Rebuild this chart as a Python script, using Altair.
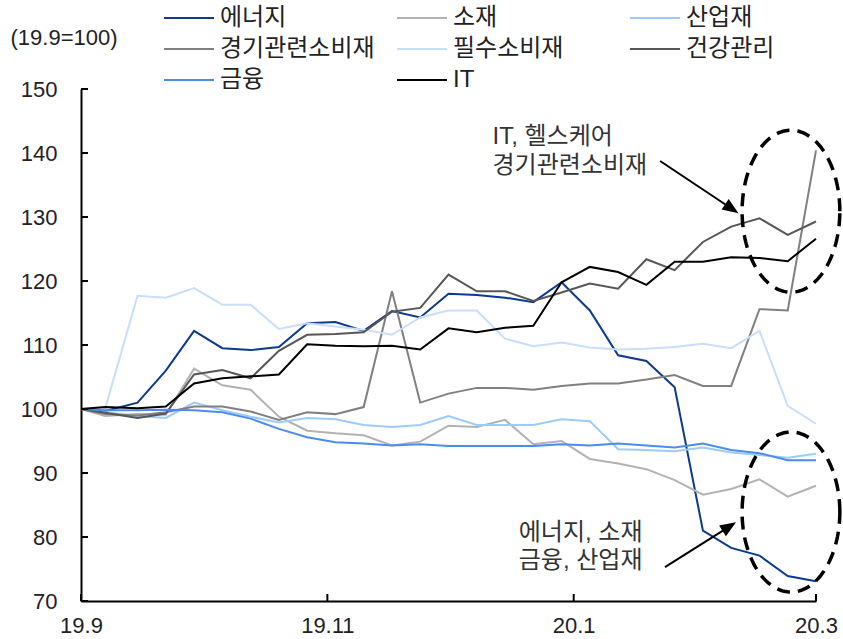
import math

import altair as alt
import numpy as np
import pandas as pd

# ---- data -----------------------------------------------------------------
dates = [
    "2019-09-01", "2019-09-07", "2019-09-15", "2019-09-22", "2019-09-29",
    "2019-10-06", "2019-10-13", "2019-10-20", "2019-10-27", "2019-11-03",
    "2019-11-10", "2019-11-17", "2019-11-24", "2019-12-01", "2019-12-08",
    "2019-12-15", "2019-12-22", "2019-12-29", "2020-01-05", "2020-01-12",
    "2020-01-19", "2020-01-26", "2020-02-02", "2020-02-09", "2020-02-16",
    "2020-02-23", "2020-03-01",
]

energy = [100, 99.7, 101.0, 106.0, 112.2, 109.5, 109.2, 109.7, 113.4, 113.6,
          112.2, 115.3, 114.3, 118.0, 117.8, 117.4, 116.7, 119.8, 115.4, 108.4,
          107.5, 103.4, 81.0, 78.3, 77.1, 73.9, 73.1]
materials = [100, 98.9, 99.2, 99.1, 106.3, 103.7, 103.0, 98.8, 96.6, 96.2,
             95.9, 94.3, 94.9, 97.4, 97.2, 98.3, 94.5, 95.0, 92.2, 91.5,
             90.6, 88.9, 86.6, 87.5, 89.0, 86.3, 88.0]
industrials = [100, 99.5, 98.9, 98.6, 101.0, 99.8, 98.8, 97.9, 98.6, 98.4,
               97.5, 97.2, 97.5, 98.9, 97.5, 97.5, 97.5, 98.4, 98.1, 93.7,
               93.6, 93.4, 94.0, 93.2, 92.8, 92.4, 93.0]
discretionary = [100, 99.2, 99.0, 99.5, 100.4, 100.4, 99.6, 98.3, 99.5, 99.2,
                 100.3, 118.4, 101.0, 102.4, 103.3, 103.3, 103.0, 103.6, 104.0, 104.0,
                 104.6, 105.3, 103.6, 103.6, 115.6, 115.4, 140.4]
staples = [100, 100.1, 117.7, 117.4, 118.9, 116.3, 116.3, 112.5, 113.4, 112.9,
           112.4, 111.6, 114.3, 115.4, 115.4, 111.0, 109.8, 110.4, 109.6, 109.3,
           109.4, 109.7, 110.2, 109.5, 112.2, 100.5, 97.7]
healthcare = [100, 99.4, 98.6, 99.3, 105.4, 106.1, 104.8, 109.1, 111.6, 111.7,
              112.0, 115.2, 115.8, 121.0, 118.4, 118.4, 116.9, 118.2, 119.6, 118.8,
              123.4, 121.7, 126.1, 128.5, 129.8, 127.2, 129.3]
financials = [100, 99.8, 99.8, 99.9, 99.8, 99.5, 98.5, 96.9, 95.6, 94.8,
              94.6, 94.3, 94.5, 94.2, 94.2, 94.2, 94.2, 94.5, 94.3, 94.6,
              94.3, 94.0, 94.6, 93.6, 93.1, 92.0, 92.0]
it = [100, 100.3, 100.1, 100.4, 104.0, 104.8, 105.1, 105.4, 110.1, 109.9,
      109.8, 109.9, 109.3, 112.6, 112.0, 112.7, 113.0, 119.8, 122.2, 121.4,
      119.4, 123.0, 123.0, 123.7, 123.6, 123.1, 126.6]

names = ["에너지", "소재", "산업재", "경기관련소비재", "필수소비재", "건강관리", "금융", "IT"]
series = [energy, materials, industrials, discretionary, staples, healthcare, financials, it]
colors = ["#0b3a8e", "#b2b2b2", "#9dcbfb", "#808080", "#c9ddfd", "#575757", "#4a8cf2", "#000000"]

tick_dates = ["2019-09-01", "2019-11-01", "2020-01-01", "2020-03-01"]
tick_labels = ["19.9", "19.11", "20.1", "20.3"]
y_ticks = [70, 80, 90, 100, 110, 120, 130, 140, 150]
unit_label = "(19.9=100)"

note_top = ["IT, 헬스케어", "경기관련소비재"]
note_bottom = ["에너지, 소재", "금융, 산업재"]

# ---- layout / style -------------------------------------------------------
W, H = 735, 512
FONT = "Liberation Sans, Noto Sans CJK KR"
KFONT = 24          # Hangul text
NFONT = 22          # numeric tick labels
TEXT = "#222222"

start = pd.Timestamp(dates[0])
day = [int(d) for d in (pd.to_datetime(dates) - start).days]
tick_days = [int(d) for d in (pd.to_datetime(tick_dates) - start).days]

X_DOMAIN = [tick_days[0], tick_days[-1]]
Y_DOMAIN = [y_ticks[0], y_ticks[-1]]
px_day = W / (X_DOMAIN[1] - X_DOMAIN[0])
px_val = H / (Y_DOMAIN[1] - Y_DOMAIN[0])

x_scale = alt.Scale(domain=X_DOMAIN, nice=False, zero=False)
y_scale = alt.Scale(domain=Y_DOMAIN, nice=False, zero=False)

rows = []
for name, vals in zip(names, series):
    for d, v in zip(day, vals):
        rows.append({"series": name, "day": d, "value": v})
df = pd.DataFrame(rows)

label_expr = " : ".join(
    f"datum.value == {d} ? '{lab}'" for d, lab in zip(tick_days, tick_labels)
) + " : ''"

x_axis = alt.Axis(
    values=tick_days, labelExpr=label_expr, title=None, ticks=False, grid=False,
    domainColor="black", domainWidth=2, labelFont=FONT, labelFontSize=NFONT,
    labelColor=TEXT, labelPadding=14, labelFlush=False, labelOverlap=False,
)
y_axis = alt.Axis(
    values=y_ticks, title=unit_label, titleAngle=0, titleX=-71, titleY=-52,
    titleAlign="left", titleBaseline="middle", titleFont=FONT, titleFontSize=NFONT,
    titleFontWeight="normal", titleColor=TEXT, ticks=False, grid=False,
    domainColor="black", domainWidth=2, labelFont=FONT, labelFontSize=NFONT,
    labelColor=TEXT, labelPadding=24,
)


def X(field="day:Q"):
    return alt.X(field, scale=x_scale, axis=x_axis)


def Y(field="value:Q"):
    return alt.Y(field, scale=y_scale, axis=y_axis)


lines = alt.Chart(df).mark_line(strokeWidth=2).encode(
    x=X(),
    y=Y(),
    color=alt.Color(
        "series:N",
        scale=alt.Scale(domain=names, range=colors),
        legend=alt.Legend(
            title=None, orient="none", legendX=82, legendY=-83, columns=3,
            direction="horizontal", symbolType="stroke", symbolSize=2500,
            symbolStrokeWidth=2, labelFont=FONT, labelFontSize=KFONT,
            labelColor=TEXT, labelOffset=5, columnPadding=21, rowPadding=7,
            clipHeight=24, gridAlign="all", labelLimit=400,
        ),
    ),
    order=alt.Order("day:Q"),
)

# inward tick marks on both axes
ytick_marks = alt.Chart(pd.DataFrame({"value": y_ticks})).mark_rule(
    color="black", strokeWidth=2
).encode(y=Y(), x=alt.value(0), x2=alt.value(7))
xtick_marks = alt.Chart(pd.DataFrame({"day": tick_days})).mark_rule(
    color="black", strokeWidth=2
).encode(x=X(), y=alt.value(H - 7), y2=alt.value(H))

# dashed ellipses around the end of the series (centre day, centre value, radii)
ellipses = [("top", 175.8, 130.9, 12.1, 12.65), ("bottom", 175.8, 83.9, 12.1, 12.5)]
erows = []
for key, cx, cy, rx, ry in ellipses:
    for k, t in enumerate(np.linspace(0, 2 * np.pi, 181)):
        erows.append({"id": key, "k": k, "day": cx + rx * np.cos(t), "value": cy + ry * np.sin(t)})
ellipse_layer = alt.Chart(pd.DataFrame(erows)).mark_line(
    color="black", strokeWidth=3.5, strokeDash=[13, 8], strokeCap="butt"
).encode(x=X(), y=Y(), detail="id:N", order="k:Q")

# arrows pointing from the notes to the ellipses (tail, tip in data units)
arrows = [("top", (143.4, 138.75), (162.8, 130.6)), ("bottom", (144.6, 75.3), (162.2, 82.3))]
HEAD = 8
arow, hrow = [], []
for key, (td, tv), (hd, hv) in arrows:
    dx = (hd - td) * px_day
    dy = -(hv - tv) * px_val
    ln = math.hypot(dx, dy)
    ux, uy = dx / ln, dy / ln
    cd = hd - HEAD * ux / px_day
    cv = hv + HEAD * uy / px_val
    arow += [{"id": key, "k": 0, "day": td, "value": tv}, {"id": key, "k": 1, "day": cd, "value": cv}]
    hrow.append({"id": key, "day": cd, "value": cv, "angle": math.degrees(math.atan2(dy, dx)) % 360})

arrow_lines = alt.Chart(pd.DataFrame(arow)).mark_line(color="black", strokeWidth=2).encode(
    x=X(), y=Y(), detail="id:N", order="k:Q"
)
arrow_heads = alt.Chart(pd.DataFrame(hrow)).mark_point(
    shape="M1,0L-1,-0.8L-1,0.8Z", filled=True, color="black", opacity=1, size=4 * HEAD * HEAD
).encode(x=X(), y=Y(), angle=alt.Angle("angle:Q", scale=None))

# annotation text
notes = pd.DataFrame({
    "text": note_top + note_bottom,
    "day": [101.9, 101.9, 108.4, 108.4],
    "value": [142.5, 137.9, 80.6, 76.2],
})
note_layer = alt.Chart(notes).mark_text(
    align="left", baseline="middle", font=FONT, fontSize=KFONT, color="#333333"
).encode(x=X(), y=Y(), text="text:N")

chart = alt.layer(
    lines, ytick_marks, xtick_marks, ellipse_layer, arrow_lines, arrow_heads, note_layer
).properties(
    width=W, height=H,
    padding={"left": 81, "top": 89, "right": 27, "bottom": 38},
    autosize=alt.AutoSizeParams(type="none"),
    background="white",
).configure_view(stroke=None)

chart.save("out.html", embed_options={"renderer": "svg", "actions": False})
